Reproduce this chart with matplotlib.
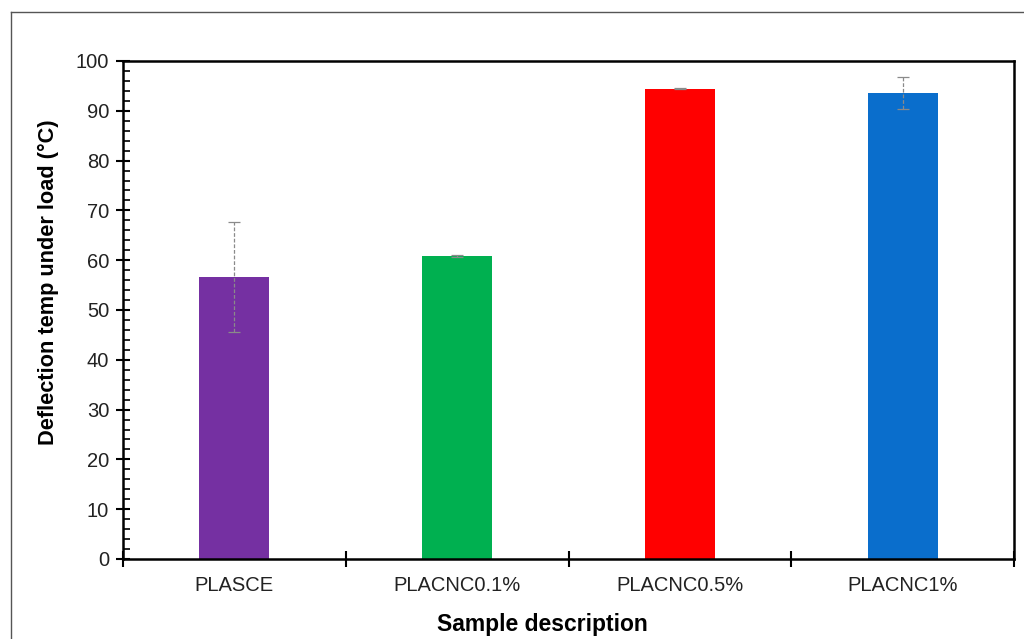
import matplotlib
matplotlib.use("Agg")
import matplotlib.pyplot as plt
from matplotlib.ticker import MultipleLocator, FixedLocator, NullFormatter
from matplotlib.lines import Line2D

plt.rcParams['font.family'] = ['Liberation Sans', 'DejaVu Sans']

# Heat deflection temperature per sample
samples = ["PLASCE", "PLACNC0.1%", "PLACNC0.5%", "PLACNC1%"]
hdt_mean = [56.6, 60.8, 94.4, 93.6]
hdt_err = [11.0, 0.2, 0.1, 3.2]
bar_colors = ["#7530A2", "#00B050", "#FF0000", "#0A6ECC"]

fig = plt.figure(figsize=(10.24, 6.39), dpi=100)

# light outer frame (top and left edges)
fig.add_artist(Line2D([11/1024, 11/1024], [0, 1 - 12/639], transform=fig.transFigure,
                      color="#555555", lw=1.0))
fig.add_artist(Line2D([11/1024, 1.0], [1 - 12/639, 1 - 12/639], transform=fig.transFigure,
                      color="#555555", lw=1.0))

ax = fig.add_axes([123/1024, 1 - 559/639, (1014 - 123)/1024, (559 - 61)/639])

x = list(range(len(samples)))
ax.bar(x, hdt_mean, width=0.314, color=bar_colors, zorder=2)
eb = ax.errorbar(x, hdt_mean, yerr=hdt_err, fmt="none", ecolor="#8a8a8a",
                 elinewidth=0.9, capsize=4.5, capthick=0.9, zorder=3)
for coll in eb[2]:
    coll.set_linestyle((0, (3, 1.5)))

ax.set_xlim(-0.5, 3.5)
ax.set_ylim(0, 100)

for side in ["left", "right", "top", "bottom"]:
    ax.spines[side].set_linewidth(1.8)
    ax.spines[side].set_color("black")

# y ticks: majors cross the spine, minors point inward
ax.yaxis.set_major_locator(MultipleLocator(10))
ax.yaxis.set_minor_locator(MultipleLocator(2))
ax.tick_params(axis="y", which="major", direction="inout", length=10, width=1.5,
               labelsize=14.5, pad=5, colors="black", labelcolor="#222222")
ax.tick_params(axis="y", which="minor", direction="in", length=5, width=1.2)

# x ticks: separators between categories, small marks at the centres
ax.xaxis.set_major_locator(FixedLocator([-0.5, 0.5, 1.5, 2.5, 3.5]))
ax.xaxis.set_major_formatter(NullFormatter())
ax.xaxis.set_minor_locator(FixedLocator(x))
ax.set_xticklabels(samples, minor=True)
ax.tick_params(axis="x", which="major", direction="inout", length=12, width=1.5)
ax.tick_params(axis="x", which="minor", direction="in", length=4, width=1.5,
               labelsize=14.5, pad=12, labelcolor="#222222")

ax.set_xlabel("Sample description", fontsize=16.5, fontweight="bold", va="center")
ax.xaxis.set_label_coords(0.471, -0.1325)
ax.set_ylabel("Deflection temp under load (\u00b0C)", fontsize=15.7, fontweight="bold",
              va="center")
ax.yaxis.set_label_coords(-0.084, 0.556)

fig.savefig("out.png", dpi=100)
